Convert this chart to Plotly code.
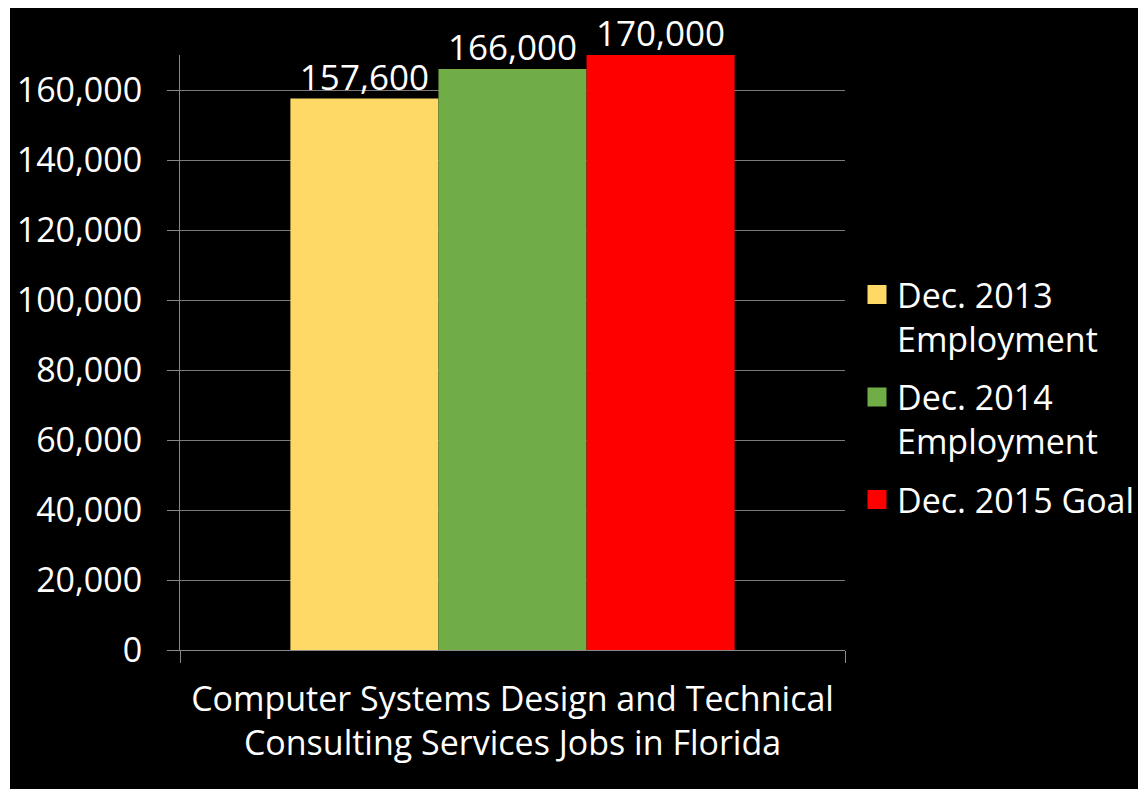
import plotly.graph_objects as go

category = ["Computer Systems Design and Technical<br>Consulting Services Jobs in Florida"]
series_names = ["Dec. 2013 Employment", "Dec. 2014 Employment", "Dec. 2015 Goal"]
legend_labels = ["Dec. 2013<br>Employment", "Dec. 2014<br>Employment", "Dec. 2015 Goal"]
series_values = [157600, 166000, 170000]
series_colors = ["#FFD966", "#70AD47", "#FF0000"]
y_ticks = [0, 20000, 40000, 60000, 80000, 100000, 120000, 140000, 160000]

OFF = 8  # page body margin
W, H = 1146 - OFF, 789 - OFF
# reference pixel positions
P_LEFT, P_RIGHT, P_TOP, P_BOTTOM = 180, 845, 55, 650
L = P_LEFT - OFF
T = P_TOP - OFF
R = W - (P_RIGHT - OFF)
B = H - (P_BOTTOM - OFF)
pw = W - L - R
ph = H - T - B

FONT = "Open Sans"
fs = 34

fig = go.Figure()
for i, (name, val, col) in enumerate(zip(series_names, series_values, series_colors)):
    fig.add_trace(go.Bar(
        x=category, y=[val], name=name, offsetgroup=str(i),
        marker=dict(color=col, line=dict(width=0)),
        showlegend=False, hoverinfo="y",
    ))
for i, val in enumerate(series_values):
    fig.add_trace(go.Scatter(
        x=category, y=[val], mode="text", offsetgroup=str(i),
        text=[f"{val:,}"], textposition="top center", cliponaxis=False,
        textfont=dict(family=FONT, size=35, color="white"),
        showlegend=False, hoverinfo="skip",
    ))
for i, (lab, col) in enumerate(zip(legend_labels, series_colors)):
    fig.add_trace(go.Scatter(
        x=[None], y=[None], mode="markers", name=lab, legendgroup=f"g{i}",
        marker=dict(symbol="square", size=16, color=col, line=dict(color=col, width=3)),
        showlegend=True,
    ))

def px_x(p):
    return (p - OFF - L) / pw

def px_y(p):
    return (H - B - (p - OFF)) / ph

fig.add_shape(type="rect", xref="paper", yref="paper",
              x0=px_x(10), x1=px_x(1150), y0=px_y(7), y1=px_y(795),
              fillcolor="black", line=dict(width=0), layer="below")

fig.update_layout(
    width=W, height=H,
    margin=dict(l=L, r=R, t=T, b=B, autoexpand=False),
    paper_bgcolor="white",
    plot_bgcolor="#404040",
    barmode="group", bargap=0.332, bargroupgap=0,
    scattermode="group", scattergap=0.332,
    font=dict(family=FONT, size=fs, color="white"),
    showlegend=True,
    legend=dict(x=px_x(857), xanchor="left", y=px_y(266), yanchor="top",
                valign="top", bgcolor="rgba(0,0,0,0)",
                font=dict(family=FONT, size=fs, color="white"),
                tracegroupgap=11, itemwidth=30),
    xaxis=dict(showgrid=False, ticks="outside", tickson="boundaries", ticklen=12,
               tickcolor="#888888", showline=True, linecolor="#888888", linewidth=1,
               ticklabelstandoff=19,
               tickfont=dict(family=FONT, size=fs, color="white"), fixedrange=True),
    yaxis=dict(range=[0, 170000], tickvals=y_ticks, tickformat=",",
               ticks="outside", ticklen=12, tickcolor="#888888",
               showline=True, linecolor="#888888", linewidth=1,
               showgrid=True, gridcolor="#7A7A7A", gridwidth=1, zeroline=False,
               ticklabelstandoff=18,
               tickfont=dict(family=FONT, size=fs, color="white"), fixedrange=True),
)

fig.write_html("out.html")
